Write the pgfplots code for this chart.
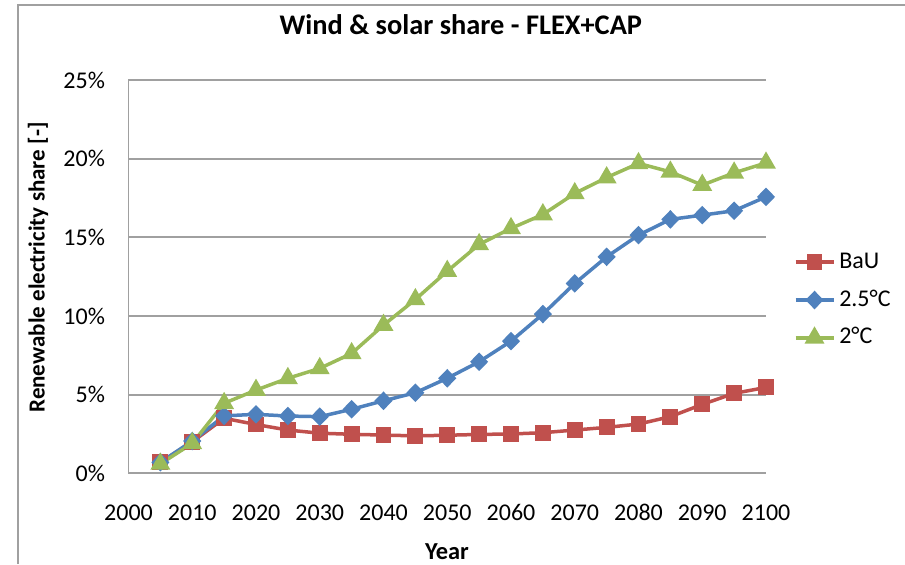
\documentclass[border=0pt]{standalone}
\usepackage{pgfplots}
\pgfplotsset{compat=1.18}
\usepackage{fontspec}
\setmainfont{Carlito}
\definecolor{cred}{HTML}{C0504D}
\definecolor{cblue}{HTML}{4F81BD}
\definecolor{cgreen}{HTML}{9BBB59}
\definecolor{cgrid}{HTML}{A0A0A0}
\begin{document}
\begin{tikzpicture}
\path[use as bounding box] (0pt,0pt) rectangle (452.5pt,282pt);
\begin{axis}[
  scale only axis,
  width=318.75pt, height=196.65pt,
  at={(64.25pt,45.35pt)}, anchor=south west,
  xmin=2000, xmax=2100, ymin=0, ymax=25,
  xtick={2000,2010,...,2100},
  xticklabels={2000,2010,2020,2030,2040,2050,2060,2070,2080,2090,2100},
  ytick={0,5,10,15,20,25},
  yticklabels={0\%,5\%,10\%,15\%,20\%,25\%},
  axis lines=left,
  axis line style={-, draw=cgrid, line width=0.9pt},
  ymajorgrids,
  grid style={draw=cgrid, line width=0.9pt},
  major tick length=0pt,
  tick style={draw=none},
  ticklabel style={font=\fontsize{12}{14}\selectfont},
  xticklabel style={anchor=base, inner sep=0pt, yshift=-23.35pt},
  yticklabel style={anchor=base east, inner sep=0pt, xshift=-10.9pt, yshift=-4.15pt},
  clip=false,
  title={\textbf{Wind \& solar share - FLEX+CAP}},
  title style={at={(axis description cs:0.5213,1.0847)}, anchor=base, font=\fontsize{14.2}{16}\selectfont, inner sep=0pt},
  xlabel={\textbf{Year}},
  xlabel style={at={(axis description cs:0.4996,-0.2187)}, anchor=base, font=\fontsize{12.2}{14}\selectfont, inner sep=0pt},
  ylabel={\textbf{Renewable electricity share [-]}},
  ylabel style={at={(axis description cs:-0.142,0.5233)}, anchor=center, rotate=0, font=\fontsize{11.5}{14}\selectfont, inner sep=0pt},
  every axis y label/.append style={rotate=0},
  legend style={at={(axis description cs:1.0408,0.4406)}, anchor=west, draw=none, fill=none,
    font=\fontsize{12}{14}\selectfont, inner sep=0pt,
    nodes={inner sep=0pt, text height=8pt, text depth=2pt},
    row sep=8.9pt, column sep=0pt},
  legend cell align=left,
  legend image code/.code={\draw[mark repeat=2,mark phase=2,#1] plot coordinates {(0pt,0pt)(9.5pt,0pt)(19pt,0pt)}; \path (21pt,0pt);},
  line width=1.75pt,
]
\addplot[color=cred, mark=square*, mark size=3.1pt, mark options={solid}] coordinates {
(2005,0.7)(2010,2.0)(2015,3.5)(2020,3.1)(2025,2.75)(2030,2.55)(2035,2.48)(2040,2.43)(2045,2.38)(2050,2.42)
(2055,2.47)(2060,2.5)(2065,2.58)(2070,2.75)(2075,2.92)(2080,3.13)(2085,3.6)(2090,4.38)(2095,5.08)(2100,5.46)};
\addlegendentry{BaU}
\addplot[color=cblue, mark=diamond*, mark size=3.4pt, mark options={solid, xscale=1.3}] coordinates {
(2005,0.7)(2010,2.05)(2015,3.65)(2020,3.75)(2025,3.64)(2030,3.6)(2035,4.07)(2040,4.61)(2045,5.12)(2050,6.04)
(2055,7.09)(2060,8.4)(2065,10.12)(2070,12.07)(2075,13.76)(2080,15.14)(2085,16.14)(2090,16.41)(2095,16.69)(2100,17.57)};
\addlegendentry{2.5°C}
\addplot[color=cgreen, mark=triangle*, mark size=4pt, mark options={solid}] coordinates {
(2005,0.6)(2010,1.9)(2015,4.45)(2020,5.29)(2025,6.04)(2030,6.67)(2035,7.62)(2040,9.42)(2045,11.05)(2050,12.85)
(2055,14.55)(2060,15.57)(2065,16.45)(2070,17.79)(2075,18.8)(2080,19.7)(2085,19.16)(2090,18.32)(2095,19.1)(2100,19.73)};
\addlegendentry{2°C}
\end{axis}
\draw[cgrid, line width=0.9pt] (9pt,0pt) -- (9pt,279.5pt) -- (452.5pt,279.5pt);
\end{tikzpicture}
\end{document}
